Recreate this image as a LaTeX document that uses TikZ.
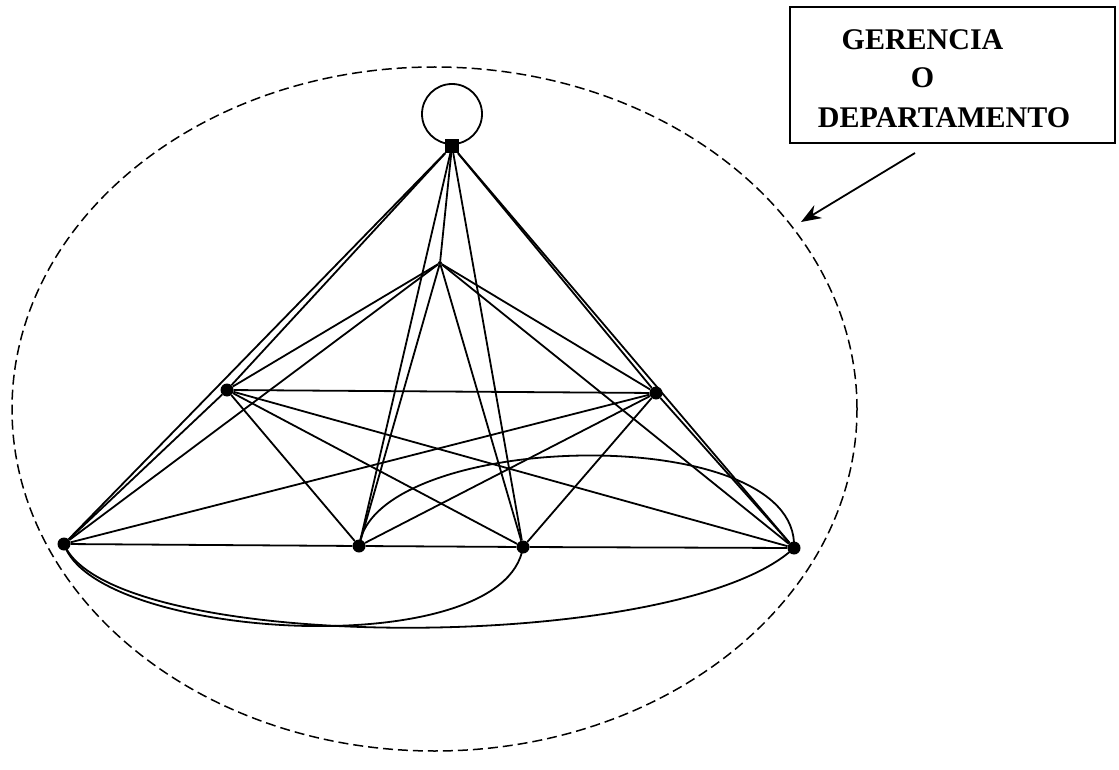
\documentclass[tikz,border=0pt]{standalone}
\usepackage{fontspec}
\setmainfont{Liberation Serif}
\usetikzlibrary{arrows.meta}
\begin{document}
\begin{tikzpicture}[x=1pt,y=-1pt,
  edge/.style={line width=1.8pt},
  dot/.style={circle,fill=black,inner sep=0pt,minimum size=13pt},
  smalldot/.style={circle,fill=black,inner sep=0pt,minimum size=4pt},
  sq/.style={rectangle,fill=black,inner sep=0pt,minimum size=14pt},
  boundary/.style={line width=1.5pt,dash pattern=on 10pt off 5pt},
  label/.style={font=\fontsize{30}{36}\selectfont\bfseries,inner sep=0pt,anchor=base}]
\useasboundingbox (0,0) rectangle (1119,770);
% dashed boundary
\draw[boundary] (434.5,409) ellipse [x radius=422.5pt, y radius=342pt];
% nodes
\node[sq] (S) at (452,146) {};
\node[smalldot] (T) at (440,263) {};
\node[dot] (L) at (227,390) {};
\node[dot] (R) at (656,393) {};
\node[dot] (A) at (64,544) {};
\node[dot] (B) at (359,546) {};
\node[dot] (C) at (523,547) {};
\node[dot] (D) at (794,548) {};
% self loop circle
\draw[edge] (S.center) ++(0,-32) circle [radius=30pt];
% edges from S
\foreach \n in {A,L,T,B,C,R,D} \draw[edge] (S) -- (\n);
% edges from T
\foreach \n in {A,L,B,C,R,D} \draw[edge] (T) -- (\n);
% edges from L
\foreach \n in {A,R,B,C,D} \draw[edge] (L) -- (\n);
% edges from R
\foreach \n in {A,B,C,D} \draw[edge] (R) -- (\n);
% baseline
\draw[edge] (A) -- (B);
\draw[edge] (B) -- (C);
\draw[edge] (C) -- (D);
% curves
\draw[edge] (A.center) .. controls (110,655) and (680,655) .. (D.center);
\draw[edge] (A.center) .. controls (95,640) and (505,665) .. (C.center);
\draw[edge] (B.center) .. controls (375,430) and (800,420) .. (D.center);
% label box
\node[draw,line width=1.6pt,minimum width=325pt,minimum height=136pt,inner sep=0pt] (box) at (952.5,75) {};
\node[label] (t1) at (922.5,50) {GERENCIA};
\node[label] (t2) at (922.5,88) {O};
\node[label] (t3) at (944,128) {DEPARTAMENTO};
\coordinate (arrS) at (915,153);
\coordinate (arrE) at (801,222);
\draw[line width=1.8pt,-{Stealth[length=20pt,width=15pt]}] (arrS) -- (arrE);
\end{tikzpicture}
\end{document}
